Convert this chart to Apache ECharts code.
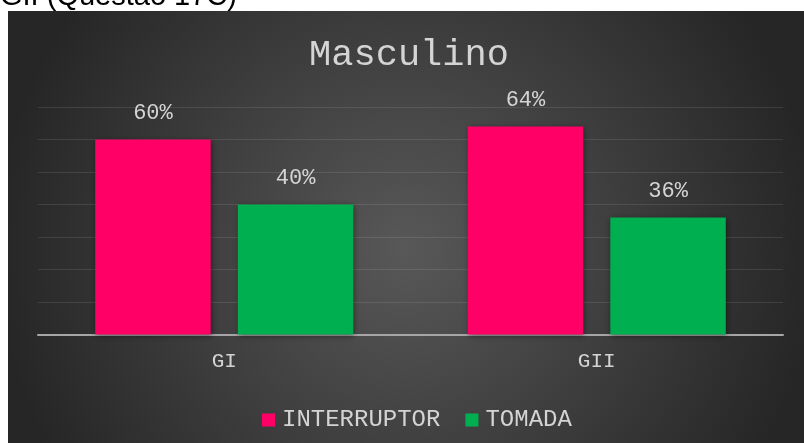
<!DOCTYPE html>
<html>
<head>
<meta charset="utf-8">
<script src="https://cdn.jsdelivr.net/npm/echarts@6/dist/echarts.min.js"></script>
<style>
  html, body { margin: 0; padding: 0; background: #ffffff; }
  #chart { width: 804px; height: 443px; }
</style>
</head>
<body>
<div id="chart"></div>
<script>
// Chart data
const categories = ['GI', 'GII'];
const seriesNames = ['INTERRUPTOR', 'TOMADA'];
const interruptor = [60, 64];
const tomada = [40, 36];
const seriesColors = ['#FF0066', '#00B050'];

const mono = '"Liberation Mono", "Courier New", monospace';
const textColor = '#d4d4d4';

const chart = echarts.init(document.getElementById('chart'), null, { renderer: 'canvas' });

function makeSeries(name, data, color) {
  return {
    name: name,
    type: 'bar',
    data: data,
    barWidth: '31%',
    barGap: '23.5%',
    itemStyle: {
      color: color,
      shadowBlur: 6,
      shadowColor: 'rgba(0,0,0,0.45)',
      shadowOffsetX: 1,
      shadowOffsetY: 1
    },
    label: {
      show: true,
      position: 'top',
      distance: 15,
      color: textColor,
      fontFamily: mono,
      fontSize: 22,
      formatter: p => p.value + '%'
    }
  };
}

chart.setOption({
  backgroundColor: '#ffffff',
  animation: false,
  graphic: [
    {
      type: 'text',
      left: 0,
      top: -18,
      z: -20,
      style: {
        text: 'GII (Questão 17C)',
        font: '29px "Liberation Sans", Arial, sans-serif',
        fill: '#000000'
      }
    },
    {
      type: 'rect',
      z: -10,
      shape: { x: 8, y: 11, width: 796, height: 432 },
      style: {
        fill: {
          type: 'radial',
          x: 0.5, y: 0.55, r: 0.95,
          colorStops: [
            { offset: 0, color: '#585858' },
            { offset: 1, color: '#262626' }
          ]
        }
      }
    }
  ],
  title: {
    text: 'Masculino',
    left: 404,
    textAlign: 'center',
    top: 32,
    textStyle: {
      color: textColor,
      fontFamily: mono,
      fontSize: 37,
      fontWeight: 'normal'
    }
  },
  legend: {
    data: seriesNames,
    left: 257,
    top: 403,
    icon: 'rect',
    itemWidth: 13,
    itemHeight: 13,
    itemGap: 25,
    textStyle: {
      color: textColor,
      fontFamily: mono,
      fontSize: 24,
      padding: [0, 0, 0, 2]
    }
  },
  grid: {
    left: 38,
    right: 21,
    top: 107,
    bottom: 108.5,
    containLabel: false
  },
  xAxis: {
    type: 'category',
    data: categories,
    axisLine: { show: true, lineStyle: { color: '#a6a6a6', width: 2 } },
    axisTick: { show: false },
    axisLabel: {
      color: textColor,
      fontFamily: mono,
      fontSize: 21,
      margin: 16
    }
  },
  yAxis: {
    type: 'value',
    min: 0,
    max: 70,
    interval: 10,
    axisLabel: { show: false },
    axisLine: { show: false },
    axisTick: { show: false },
    splitLine: { lineStyle: { color: 'rgba(255,255,255,0.1)', width: 1 } }
  },
  series: [
    makeSeries(seriesNames[0], interruptor, seriesColors[0]),
    makeSeries(seriesNames[1], tomada, seriesColors[1])
  ]
});
</script>
</body>
</html>
